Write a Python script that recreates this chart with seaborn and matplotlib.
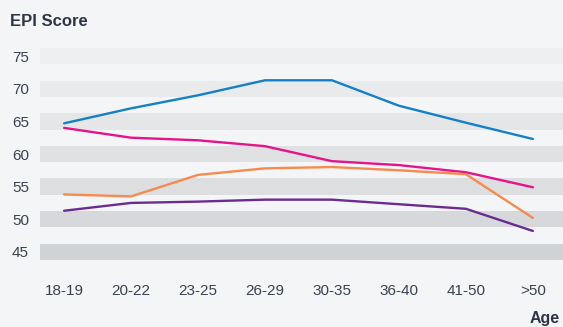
import matplotlib
matplotlib.use("Agg")
import matplotlib.pyplot as plt
import seaborn as sns
import pandas as pd

# Age groups on the x axis
ages = ["18-19", "20-22", "23-25", "26-29", "30-35", "36-40", "41-50", ">50"]

# EPI score per age group for each series
blue_scores = [64.7, 67.0, 69.0, 71.3, 71.3, 67.4, 64.8, 62.3]
pink_scores = [64.0, 62.5, 62.1, 61.2, 58.9, 58.3, 57.2, 54.9]
orange_scores = [53.8, 53.5, 56.8, 57.8, 58.0, 57.5, 56.9, 50.2]
purple_scores = [51.3, 52.5, 52.7, 53.0, 53.0, 52.3, 51.6, 48.2]

series_names = ["Series 1", "Series 2", "Series 3", "Series 4"]
y_ticks = [45, 50, 55, 60, 65, 70, 75]

colors = ["#1580c6", "#e6148b", "#f68a4f", "#6b2c91"]
band_colors = ["#d0d3d6", "#d6d8db", "#dcdee0", "#e0e1e3", "#e5e6e8", "#e9eaec", "#eeeff1"]

rows = []
for name, vals in zip(series_names, [blue_scores, pink_scores, orange_scores, purple_scores]):
    for i, (a, v) in enumerate(zip(ages, vals)):
        rows.append({"series": name, "pos": i, "age": a, "score": v})
df = pd.DataFrame(rows)

sns.set_theme(style="white")
plt.rcParams["font.family"] = ["Liberation Sans", "DejaVu Sans"]

bg = "#f4f5f7"
text_col = "#3a4150"

fig = plt.figure(figsize=(5.63, 3.27), dpi=100, facecolor=bg)
W, H = 563, 327
ax = fig.add_axes([40 / W, (H - 260) / H, 523 / W, 212 / H])
ax.set_facecolor(bg)

# horizontal bands centred on each y tick
for v, c in zip(y_ticks, band_colors):
    ax.axhspan(v - 1.25, v + 1.25, color=c, lw=0, zorder=0)

sns.lineplot(data=df, x="pos", y="score", hue="series", palette=colors,
             linewidth=1.7, legend=False, ax=ax, zorder=3)

ax.set_xlim(-0.36, 7.45)
ax.set_ylim(43.75, 76.25)
ax.set_xticks(range(len(ages)))
ax.set_xticklabels(ages)
ax.set_yticks(y_ticks)
ax.set_yticklabels([str(t) for t in y_ticks])
ax.tick_params(axis="x", length=0, pad=17, labelsize=11, labelcolor=text_col)
ax.tick_params(axis="y", length=0, pad=8, labelsize=11, labelcolor=text_col)
ax.set_xlabel("")
ax.set_ylabel("")
for s in ax.spines.values():
    s.set_visible(False)

fig.text(10 / W, 1 - 21 / H, "EPI Score", ha="left", va="center",
         fontsize=12, fontweight="bold", color="#2e3646")
fig.text(560 / W, 1 - 318 / H, "Age", ha="right", va="center",
         fontsize=11.5, fontweight="bold", color="#2e3646")

fig.savefig("out.png", dpi=100, facecolor=bg)
